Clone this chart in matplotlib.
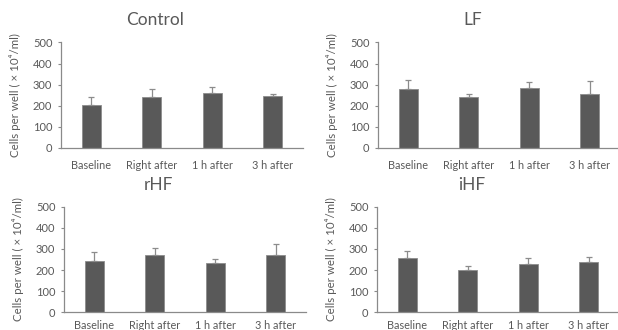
import matplotlib
matplotlib.use('Agg')
import matplotlib.pyplot as plt
import numpy as np

plt.rcParams['font.family'] = ['Lato', 'DejaVu Sans']

# time points and panel names
timepoints = ['Baseline', 'Right after', '1 h after', '3 h after']
groups = ['Control', 'LF', 'rHF', 'iHF']

# mean cell counts (x 10^4/ml) and upper error bars
control_mean = [205, 242, 261, 244]
control_err = [35, 36, 29, 12]
lf_mean = [278, 242, 285, 255]
lf_err = [43, 11, 28, 63]
rhf_mean = [244, 271, 232, 271]
rhf_err = [40, 33, 19, 54]
ihf_mean = [259, 202, 230, 238]
ihf_err = [31, 17, 29, 25]

means = [control_mean, lf_mean, rhf_mean, ihf_mean]
errs = [control_err, lf_err, rhf_err, ihf_err]

W, H = 618, 330
fig = plt.figure(figsize=(W / 100, H / 100), dpi=100)

# axes boxes in pixels: left, bottom-from-top, width, height, x label pad
boxes = [(61, 147.7, 242, 105.2, 8.5),
         (378, 147.7, 242, 105.2, 8.5),
         (64, 312.3, 242, 105.6, 5.5),
         (377, 312.3, 242, 105.6, 5.5)]

text_col = '#595959'
spine_col = '#8a8a8a'
bar_col = '#595959'

x = np.arange(len(timepoints))
for name, m, e, (l, b, w, h, xpad) in zip(groups, means, errs, boxes):
    ax = fig.add_axes([l / W, (H - b) / H, w / W, h / H])
    ax.bar(x, m, width=0.31, color=bar_col, edgecolor='#8c8c8c', linewidth=0.6,
           yerr=[np.zeros(len(e)), e], capsize=2.5,
           error_kw=dict(ecolor='#8c8c8c', elinewidth=0.9, capthick=0.9))
    ax.set_xlim(-0.5, 3.5)
    ax.set_ylim(0, 500)
    ax.set_yticks(range(0, 501, 100))
    ax.set_xticks(x)
    ax.set_xticklabels(timepoints)
    for s in ['top', 'right']:
        ax.spines[s].set_visible(False)
    for s in ['left', 'bottom']:
        ax.spines[s].set_color(spine_col)
        ax.spines[s].set_linewidth(0.9)
    ax.tick_params(axis='y', length=2.2, width=0.8, color=spine_col,
                   labelsize=8, labelcolor=text_col, pad=4)
    ax.tick_params(axis='x', length=0, labelsize=7.8, labelcolor=text_col, pad=xpad)
    ax.set_ylabel('Cells per well ( \u00d7 10\u2074/ml)', fontsize=8.3, color=text_col)
    ax.yaxis.set_label_coords(-0.165, 0.5)
    ax.text(0.39, 1.21, name, transform=ax.transAxes, ha='center', va='center',
            fontsize=12.5, color=text_col)

fig.savefig('out.png', dpi=100)
